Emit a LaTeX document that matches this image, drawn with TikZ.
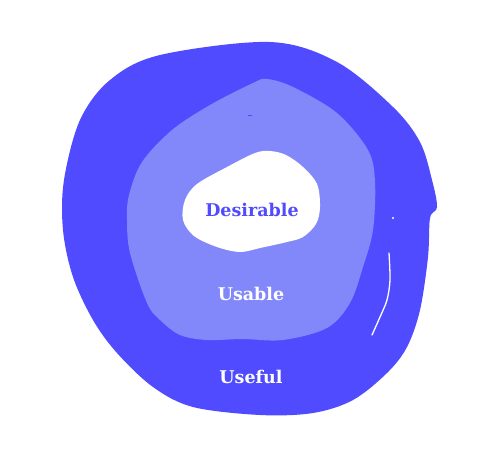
\documentclass[tikz,border=0pt]{standalone}
\usepackage{fontspec}
\setmainfont{DejaVu Serif}
\definecolor{useful}{RGB}{80,75,255}
\definecolor{usable}{RGB}{130,136,250}
\begin{document}
\begin{tikzpicture}[x=1pt,y=-1pt,
ring/.style={smooth cycle,tension=0.55},
ringtext/.style={font=\bfseries\fontsize{17.5}{20}\selectfont,text=white,inner sep=0pt}
]
\useasboundingbox (0,0) rectangle (497,459);
% outer ring
\fill[useful] plot[ring] coordinates {(270,42) (337,62) (393,107) (420,142) (432,180) (437,207) (430,218) (428,257) (420,310) (407,347) (387,373) (353,400) (313,413) (260,415) (193,407) (153,387) (117,353) (93,320) (73,277) (63,230) (64,180) (80,120) (110,80) (160,55)};
% middle ring
\fill[usable] plot[ring] coordinates {(267,79) (293,87) (337,113) (368,150) (375,182) (373,230) (363,267) (350,303) (327,328) (283,340) (243,339) (207,340) (180,335) (160,320) (147,303) (130,253) (127,220) (129,195) (142,162) (172,130) (210,105) (253,83)};
% inner blob
\fill[white] plot[ring] coordinates {(270,151) (286,155) (303,167) (317,184) (320,207) (316,224) (303,237) (287,242) (260,248) (240,252) (217,247) (194,236) (183,220) (185,200) (197,184) (227,167) (255,153)};
% brush marks
\draw[white,line width=1.3pt,line cap=round] plot[smooth] coordinates {(389,253) (390,280) (387,300) (380,317) (372,335)};
\fill[white] (393,218) circle (1.2);
\fill[useful] (248,115) rectangle (252,116);
\node[ringtext,text=useful] (desirable) at (252,210) {Desirable};
\node[ringtext] (usable) at (251,294) {Usable};
\node[ringtext] (useful) at (251,377) {Useful};
\end{tikzpicture}
\end{document}
